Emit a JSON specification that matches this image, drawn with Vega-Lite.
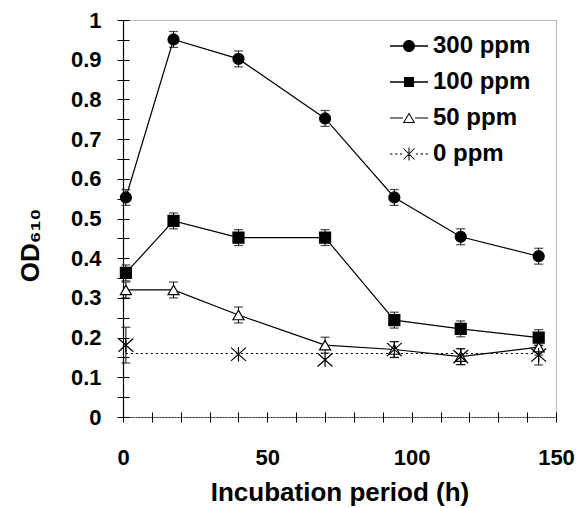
{
  "$schema": "https://vega.github.io/schema/vega-lite/v6.json",
  "width": 433,
  "height": 397,
  "autosize": "none",
  "padding": {"left": 123, "top": 20, "right": 24, "bottom": 91},
  "background": "white",
  "config": {
    "font": "Liberation Sans",
    "view": {"stroke": "#777777", "strokeDash": [1, 1], "strokeWidth": 1},
    "axis": {"grid": false}
  },
  "datasets": {
    "od": [
      {"series": "300 ppm", "x": 1, "y": 0.553, "err": 0.02},
      {"series": "300 ppm", "x": 17.5, "y": 0.951, "err": 0.02},
      {"series": "300 ppm", "x": 40, "y": 0.902, "err": 0.02},
      {"series": "300 ppm", "x": 70, "y": 0.752, "err": 0.02},
      {"series": "300 ppm", "x": 94, "y": 0.553, "err": 0.02},
      {"series": "300 ppm", "x": 117, "y": 0.454, "err": 0.02},
      {"series": "300 ppm", "x": 144, "y": 0.405, "err": 0.02},
      {"series": "100 ppm", "x": 1, "y": 0.363, "err": 0.02},
      {"series": "100 ppm", "x": 17.5, "y": 0.494, "err": 0.02},
      {"series": "100 ppm", "x": 40, "y": 0.452, "err": 0.02},
      {"series": "100 ppm", "x": 70, "y": 0.452, "err": 0.02},
      {"series": "100 ppm", "x": 94, "y": 0.244, "err": 0.02},
      {"series": "100 ppm", "x": 117, "y": 0.222, "err": 0.02},
      {"series": "100 ppm", "x": 144, "y": 0.2, "err": 0.02},
      {"series": "50 ppm", "x": 1, "y": 0.32, "err": 0.02},
      {"series": "50 ppm", "x": 17.5, "y": 0.32, "err": 0.02},
      {"series": "50 ppm", "x": 40, "y": 0.257, "err": 0.02},
      {"series": "50 ppm", "x": 70, "y": 0.181, "err": 0.02},
      {"series": "50 ppm", "x": 94, "y": 0.17, "err": 0.02},
      {"series": "50 ppm", "x": 117, "y": 0.152, "err": 0.02},
      {"series": "50 ppm", "x": 144, "y": 0.176, "err": 0.02},
      {"series": "0 ppm", "x": 1, "y": 0.181, "err": 0.045},
      {"series": "0 ppm", "x": 40, "y": 0.158, "err": 0},
      {"series": "0 ppm", "x": 70, "y": 0.144, "err": 0},
      {"series": "0 ppm", "x": 94, "y": 0.17, "err": 0.02},
      {"series": "0 ppm", "x": 117, "y": 0.152, "err": 0.02},
      {"series": "0 ppm", "x": 144, "y": 0.156, "err": 0.025}
    ],
    "base": [
      {"x": 1, "y": 0.16},
      {"x": 145, "y": 0.16}
    ]
  },
  "resolve": {"axis": {"x": "independent", "y": "independent"}, "scale": {"shape": "independent"}},
  "layer": [
    {
      "data": {"name": "base"},
      "mark": {"type": "line", "color": "black", "strokeWidth": 1.2, "strokeDash": [2, 3]},
      "encoding": {
        "x": {"field": "x", "type": "quantitative", "scale": {"domain": [0, 150], "nice": false},
          "axis": {"orient": "bottom", "values": [0,10,20,30,40,50,60,70,80,90,100,110,120,130,140,150], "labels": false, "domain": false, "ticks": true, "tickSize": 10, "offset": -5, "tickColor": "black", "tickWidth": 1, "title": null}},
        "y": {"field": "y", "type": "quantitative", "scale": {"domain": [0, 1], "nice": false},
          "axis": {"orient": "left", "values": [0,0.05,0.1,0.15,0.2,0.25,0.3,0.35,0.4,0.45,0.5,0.55,0.6,0.65,0.7,0.75,0.8,0.85,0.9,0.95,1], "labels": false, "domain": false, "ticks": true, "tickSize": 12, "offset": -6, "tickColor": "black", "tickWidth": 1, "title": null}}
      }
    },
    {
      "data": {"name": "od"},
      "transform": [{"filter": "datum.series !== '0 ppm'"}],
      "mark": {"type": "line", "color": "black", "strokeWidth": 1.2},
      "encoding": {
        "x": {"field": "x", "type": "quantitative", "axis": null},
        "y": {"field": "y", "type": "quantitative", "axis": null},
        "detail": {"field": "series"},
        "order": {"field": "x"}
      }
    },
    {
      "data": {"name": "od"},
      "transform": [{"filter": "datum.err > 0"}],
      "mark": {"type": "errorbar", "color": "black", "thickness": 1, "ticks": {"size": 9, "color": "black", "thickness": 1.2}},
      "encoding": {
        "x": {"field": "x", "type": "quantitative", "axis": null},
        "y": {"field": "y", "type": "quantitative", "axis": null},
        "yError": {"field": "err"},
        "detail": {"field": "series"}
      }
    },
    {
      "data": {"name": "od"},
      "mark": {"type": "point", "filled": true, "stroke": "black", "strokeWidth": 1.2, "size": 121, "opacity": 1},
      "encoding": {
        "x": {"field": "x", "type": "quantitative",
          "axis": {"orient": "bottom", "title": "Incubation period (h)", "values": [0, 50, 100, 150], "ticks": false, "tickSize": 0, "domain": true, "domainColor": "#333333", "domainDash": [2, 1], "domainWidth": 1,
            "labelFont": "Liberation Sans", "labelFontWeight": "bold", "labelFontSize": 22, "labelColor": "black", "labelPadding": 30, "labelFlush": false,
            "titleFont": "Liberation Sans", "titleFontWeight": "bold", "titleFontSize": 26, "titleColor": "black", "titlePadding": 11}},
        "y": {"field": "y", "type": "quantitative",
          "axis": {"orient": "left", "title": "OD₆₁₀", "values": [0, 0.1, 0.2, 0.3, 0.4, 0.5, 0.6, 0.7, 0.8, 0.9, 1], "format": "~g", "ticks": false, "tickSize": 0, "domain": true, "domainColor": "black", "domainWidth": 1.2,
            "labelFont": "Liberation Sans", "labelFontWeight": "bold", "labelFontSize": 22, "labelColor": "black", "labelPadding": 22, "labelFlush": false,
            "titleFont": "Liberation Sans", "titleFontWeight": "bold", "titleFontSize": 26, "titleColor": "black", "titlePadding": 27, "titleY": 225}},
        "shape": {"field": "series", "type": "nominal",
          "scale": {"domain": ["300 ppm", "100 ppm", "50 ppm", "0 ppm"], "range": ["circle", "square", "triangle-up", "M-1.35,-1.2L1.35,1.2M-1.35,1.2L1.35,-1.2M0,-1.3V1.3"]},
          "legend": null},
        "fill": {"field": "series", "type": "nominal",
          "scale": {"domain": ["300 ppm", "100 ppm", "50 ppm", "0 ppm"], "range": ["black", "black", "white", "transparent"]},
          "legend": null}
      }
    },
    {
      "data": {"name": "od"},
      "transform": [{"filter": "datum.x < 0"}],
      "mark": {"type": "point", "filled": true, "color": "black", "size": 400, "opacity": 1},
      "encoding": {
        "x": {"field": "x", "type": "quantitative", "axis": null},
        "y": {"field": "y", "type": "quantitative", "axis": null},
        "shape": {"field": "series", "type": "nominal",
          "scale": {"domain": ["300 ppm", "100 ppm", "50 ppm", "0 ppm"], "range": [
            "M-1.9,-0.07H-0.55V0.07H-1.9Z M0.55,-0.07H1.9V0.07H0.55Z M0.6,0A0.6,0.6,0,1,1,-0.6,0A0.6,0.6,0,1,1,0.6,0Z",
            "M-1.9,-0.07H-0.5V0.07H-1.9Z M0.5,-0.07H1.9V0.07H0.5Z M-0.5,-0.5H0.5V0.5H-0.5Z",
            "M-1.9,-0.05H-0.6V0.05H-1.9Z M0.6,-0.05H1.9V0.05H0.6Z M0,-0.55L0.62,0.5L-0.62,0.5Z M0,-0.35L-0.445,0.4L0.445,0.4Z",
            "M-1.9,-0.05H-1.65V0.05H-1.9Z M-1.4,-0.05H-1.15V0.05H-1.4Z M-0.9,-0.05H-0.7V0.05H-0.9Z M0.7,-0.05H0.9V0.05H0.7Z M1.15,-0.05H1.4V0.05H1.15Z M1.65,-0.05H1.9V0.05H1.65Z M-0.515,-0.585L0.585,0.515L0.515,0.585L-0.585,-0.515Z M0.515,-0.585L0.585,-0.515L-0.515,0.585L-0.585,0.515Z M-0.05,-0.65H0.05V0.65H-0.05Z"]},
          "legend": {
            "title": null, "orient": "none", "legendX": 274, "legendY": 14, "padding": 0,
            "labelFont": "Liberation Sans", "labelFontWeight": "bold", "labelFontSize": 24, "labelColor": "black", "labelOffset": 12,
            "rowPadding": 12, "symbolSize": 400, "symbolFillColor": "black", "symbolStrokeWidth": 0
          }}
      }
    }
  ]
}
